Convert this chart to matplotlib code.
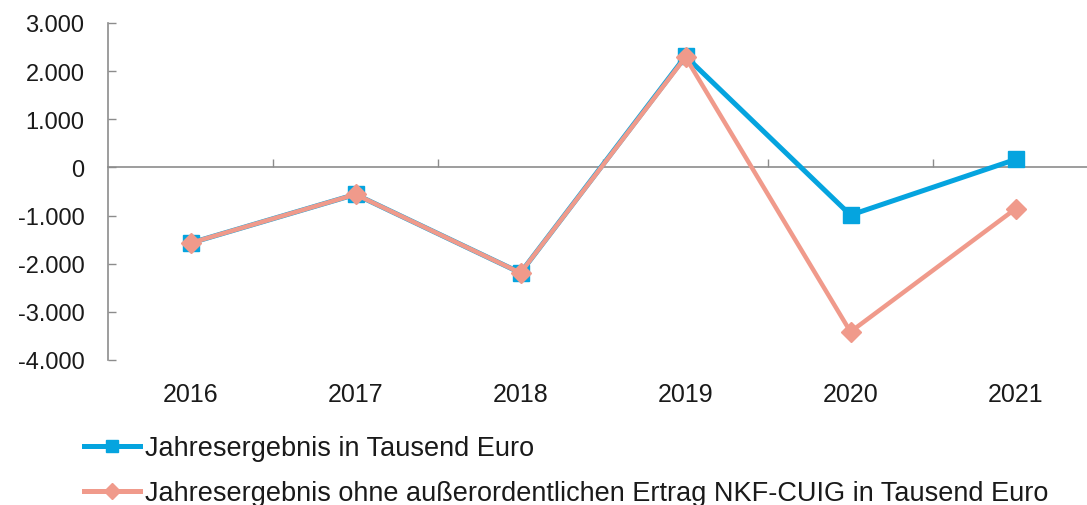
import matplotlib
matplotlib.use("Agg")
import matplotlib.pyplot as plt
from matplotlib.lines import Line2D

years = ["2016", "2017", "2018", "2019", "2020", "2021"]
ergebnis = [-1570, -560, -2190, 2310, -990, 165]
ohne_ertrag = [-1570, -560, -2190, 2290, -3415, -860]
ytick_values = [3000, 2000, 1000, 0, -1000, -2000, -3000, -4000]
ytick_labels = ["3.000", "2.000", "1.000", "0", "-1.000", "-2.000", "-3.000", "-4.000"]
label_a = "Jahresergebnis in Tausend Euro"
label_b = "Jahresergebnis ohne außerordentlichen Ertrag NKF-CUIG in Tausend Euro"

blue = "#05A4DF"
pink = "#F09A8B"
axis_gray = "#8C8C8C"
text_col = "#1A1A1A"

plt.rcParams["font.family"] = ["Liberation Sans", "DejaVu Sans"]

fig = plt.figure(figsize=(10.87, 5.06), dpi=100)
ax = fig.add_axes([108/1087, 145/506, 990/1087, 337/506])

x = list(range(len(years)))
ax.plot(x, ergebnis, color=blue, lw=3.6, marker="s", ms=12, zorder=3,
        solid_joinstyle="round")
ax.plot(x, ohne_ertrag, color=pink, lw=3.2, marker="D", ms=10, zorder=4,
        solid_joinstyle="round")

ax.set_xlim(-0.5, 5.5)
ax.set_ylim(-4000, 3000)

for s in ["top", "right"]:
    ax.spines[s].set_visible(False)
ax.spines["left"].set_color(axis_gray)
ax.spines["left"].set_linewidth(1.2)
ax.spines["bottom"].set_position(("data", 0))
ax.spines["bottom"].set_color(axis_gray)
ax.spines["bottom"].set_linewidth(1.2)

ax.set_yticks(ytick_values)
ax.set_yticklabels(ytick_labels)
ax.tick_params(axis="y", direction="in", length=6, width=1, color=axis_gray,
               labelsize=17, labelcolor=text_col, pad=17)

ax.set_xticks([i + 0.5 for i in range(len(years) - 1)])
ax.set_xticklabels([])
ax.tick_params(axis="x", direction="in", length=6, width=1, color=axis_gray)

sec = ax.secondary_xaxis("bottom")
sec.set_xticks(x)
sec.set_xticklabels(years)
sec.spines["bottom"].set_visible(False)
sec.tick_params(axis="x", length=0, labelsize=18, labelcolor=text_col, pad=16)

handles = [
    Line2D([], [], color=blue, lw=3.6, marker="s", ms=9),
    Line2D([], [], color=pink, lw=3.6, marker="D", ms=8),
]
fig.legend(handles, [label_a, label_b], loc="upper left",
           bbox_to_anchor=(84/1087, 1 - 436/506), frameon=False,
           fontsize=19.5, handlelength=2.05, handletextpad=0.2,
           labelspacing=0.72, labelcolor=text_col, borderaxespad=0,
           borderpad=0)

fig.savefig("out.png", dpi=100)
